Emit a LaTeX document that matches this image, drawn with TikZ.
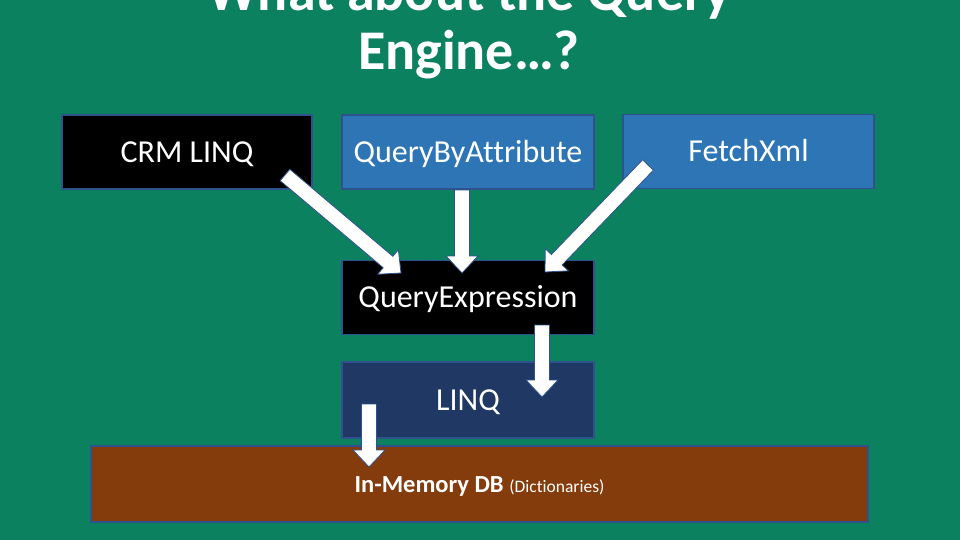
\documentclass[tikz,border=0pt]{standalone}
\usepackage{fontspec}
\setmainfont{Carlito}[Ligatures=NoCommon]
\usetikzlibrary{calc}
\definecolor{bggreen}{RGB}{12,129,96}
\definecolor{boxblue}{RGB}{46,117,182}
\definecolor{boxnavy}{RGB}{32,56,100}
\definecolor{boxbrown}{RGB}{132,60,12}
\definecolor{edge}{RGB}{47,82,143}
\tikzset{
  box/.style={draw=edge, line width=1.5pt, minimum height=74pt, inner sep=0pt, text=white, text height=20.5pt, text depth=0pt, font=\fontsize{32}{36}\selectfont},
  title/.style={text=white, font=\bfseries\fontsize{56}{62}\selectfont, anchor=base, inner sep=0pt},
  blockarrow/.style={draw=edge, line width=0.8pt, fill=white, line join=miter}
}
\newcommand\blockarr[2]{%
  \path let \p1=($(#2)-(#1)$), \n1={atan2(\y1,\x1)}, \n2={veclen(\x1,\y1)} in
    [blockarrow, shift={(#1)}, rotate=\n1]
    (0,-7.5) -- (\n2-17,-7.5) -- (\n2-17,-16) -- (\n2,0) -- (\n2-17,16) -- (\n2-17,7.5) -- (0,7.5) -- cycle;}
\begin{document}
\begin{tikzpicture}[x=1pt,y=-1pt]
\useasboundingbox (0,0) rectangle (960,540);
\fill[bggreen] (0,0) rectangle (960,540);
\node[title] (t1) at (469,10.5) {What about the Query};
\node[title] (t2) at (469,70) {Engine…?};
\node[box, fill=black, minimum width=250pt] (crm) at (187,152) {CRM LINQ};
\node[box, fill=boxblue, minimum width=252pt] (qba) at (468,152) {QueryByAttribute};
\node[box, fill=boxblue, minimum width=251pt] (fx) at (748.5,151.5) {FetchXml};
\node[box, fill=black, minimum width=252pt] (qe) at (468,297.5) {QueryExpression};
\node[box, fill=boxnavy, minimum width=252pt, minimum height=76pt] (linq) at (468,400) {LINQ};
\node[box, fill=boxbrown, minimum width=777pt, minimum height=76pt] (db) at (479.5,484) {};
\node[text=white, inner sep=0pt, anchor=base] (dbl) at (479.5,492) {\fontsize{24.5}{27}\selectfont\bfseries In-Memory DB \mdseries\fontsize{17.5}{20}\selectfont (Dictionaries)};
\coordinate (s1) at (285,175); \coordinate (e1) at (401,273);
\coordinate (s2) at (462,190); \coordinate (e2) at (462,273);
\coordinate (s3) at (648,165); \coordinate (e3) at (545,272);
\coordinate (s4) at (542,325); \coordinate (e4) at (542,397);
\coordinate (s5) at (369,404); \coordinate (e5) at (369,467);
\blockarr{s1}{e1}
\blockarr{s2}{e2}
\blockarr{s3}{e3}
\blockarr{s4}{e4}
\blockarr{s5}{e5}
\end{tikzpicture}
\end{document}
